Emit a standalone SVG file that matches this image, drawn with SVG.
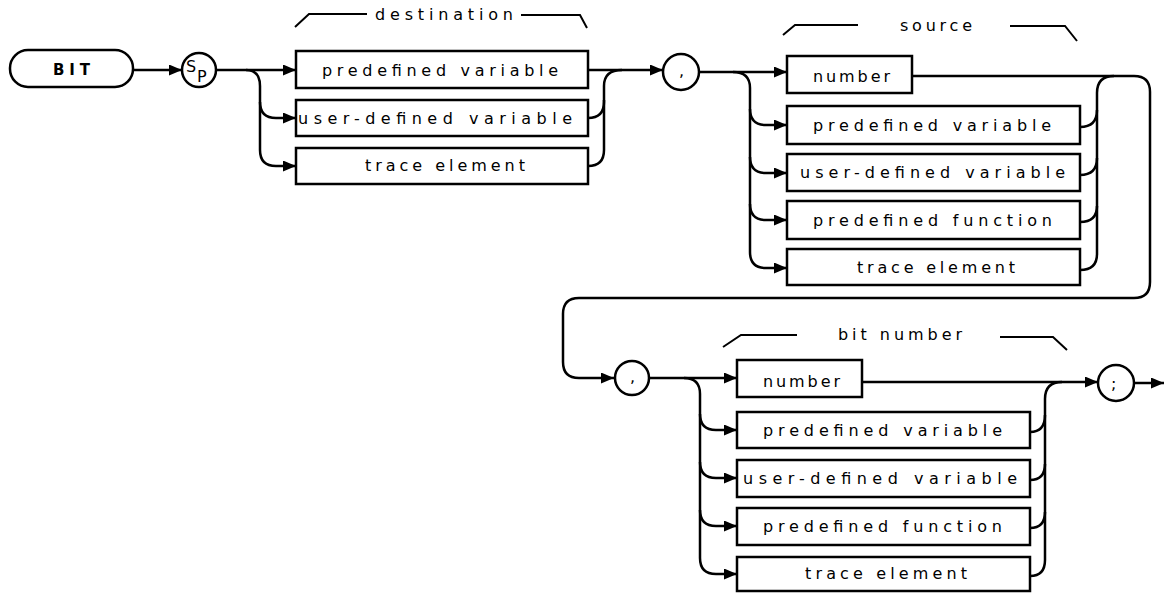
<svg xmlns="http://www.w3.org/2000/svg" width="1166" height="593" viewBox="0 0 1166 593">
<defs>
<marker id="arr" markerUnits="userSpaceOnUse" markerWidth="13" markerHeight="11" refX="13" refY="5.5" orient="auto">
<path d="M0,0 L13,5.5 L0,11 z" fill="#000"/>
</marker>
<style>
.box{fill:#fff;stroke:#000;stroke-width:2.5}
.c{fill:none;stroke:#000;stroke-width:2.5}
.a{fill:none;stroke:#000;stroke-width:2.5;marker-end:url(#arr)}
.br{fill:none;stroke:#000;stroke-width:2}
.t{font-family:"DejaVu Sans",sans-serif;font-size:16px;fill:#000}
.b{font-family:"DejaVu Sans",sans-serif;font-size:15px;font-weight:bold;fill:#000}
</style>
</defs>
<rect width="1166" height="593" fill="#fff"/>

<g id="connectors">
<path class="a" d="M133,70 H182"/>
<path class="a" d="M217,70 H296"/>
<path class="a" d="M246,70 Q260,70 260,86 V150 Q260,166 276,166 H296"/>
<path class="a" d="M260,102 Q260,118 276,118 H296"/>
<path class="a" d="M588,70 H663"/>
<path class="c" d="M588,118 Q604,118 604,102 V86 Q604,70 622,70"/>
<path class="c" d="M588,166 Q604,166 604,150 V100"/>

<path class="a" d="M700,72 H787"/>
<path class="a" d="M733,72 Q750,72 750,88 V252 Q750,268 766,268 H787"/>
<path class="a" d="M750,109 Q750,125 766,125 H787"/>
<path class="a" d="M750,157 Q750,173 766,173 H787"/>
<path class="a" d="M750,204 Q750,220 766,220 H787"/>

<path class="c" d="M912,76 H1134 Q1150,76 1150,92 V282 Q1150,298 1134,298 H579 Q563,298 563,314 V362 Q563,378 579,378 H614" marker-end="url(#arr)"/>
<path class="c" d="M1080,127 Q1097,127 1097,110 V93 Q1097,76 1114,76"/>
<path class="c" d="M1080,270 Q1097,270 1097,254 V110"/>
<path class="c" d="M1080,175 Q1097,175 1097,158"/>
<path class="c" d="M1080,222 Q1097,222 1097,206"/>

<path class="a" d="M649,378 H737"/>
<path class="a" d="M684,378 Q700,378 700,394 V558 Q700,574 716,574 H737"/>
<path class="a" d="M700,414 Q700,430 716,430 H737"/>
<path class="a" d="M700,462 Q700,478 716,478 H737"/>
<path class="a" d="M700,510 Q700,526 716,526 H737"/>

<path class="a" d="M862,382 H1098"/>
<path class="c" d="M1030,432 Q1045,432 1045,415 V399 Q1045,382 1062,382"/>
<path class="c" d="M1030,576 Q1045,576 1045,560 V415"/>
<path class="c" d="M1030,480 Q1045,480 1045,464"/>
<path class="c" d="M1030,528 Q1045,528 1045,512"/>
<path class="a" d="M1134,383 H1164"/>
</g>

<g id="bit">
<rect class="box" x="10" y="50" width="123" height="37" rx="18"/>
<text class="b" x="53" y="75" textLength="37" lengthAdjust="spacing">BIT</text>
</g>
<g id="sp">
<circle class="box" cx="199" cy="70" r="17"/>
<text class="t" x="186" y="72" font-size="16">S</text>
<text class="t" x="197" y="82" font-size="16">P</text>
</g>

<g id="destination-label">
<path class="br" d="M295,27 L309,14 H367"/>
<text class="t" x="375" y="20" textLength="138" lengthAdjust="spacing">destination</text>
<path class="br" d="M521,15 H580 L587,28"/>
</g>
<g id="dest-predefined-variable">
<rect class="box" x="296" y="51" width="292" height="37"/>
<text class="t" x="322" y="76" textLength="236" lengthAdjust="spacing">predefined variable</text>
</g>
<g id="dest-user-defined-variable">
<rect class="box" x="296" y="100" width="292" height="36"/>
<text class="t" x="298" y="124" textLength="274" lengthAdjust="spacing">user-defined variable</text>
</g>
<g id="dest-trace-element">
<rect class="box" x="296" y="148" width="292" height="36"/>
<text class="t" x="365" y="171" textLength="160" lengthAdjust="spacing">trace element</text>
</g>

<g id="comma1">
<circle class="box" cx="681" cy="72" r="18"/>
<text class="t" x="679" y="76">,</text>
</g>

<g id="source-label">
<path class="br" d="M783,35 L795,25 H858"/>
<text class="t" x="900" y="31" textLength="72" lengthAdjust="spacing">source</text>
<path class="br" d="M1010,26 H1065 L1077,41"/>
</g>
<g id="src-number">
<rect class="box" x="787" y="56" width="125" height="37"/>
<text class="t" x="813" y="82" textLength="77" lengthAdjust="spacing">number</text>
</g>
<g id="src-predefined-variable">
<rect class="box" x="787" y="106" width="293" height="38"/>
<text class="t" x="813" y="131" textLength="238" lengthAdjust="spacing">predefined variable</text>
</g>
<g id="src-user-defined-variable">
<rect class="box" x="787" y="154" width="293" height="37"/>
<text class="t" x="800" y="178" textLength="265" lengthAdjust="spacing">user-defined variable</text>
</g>
<g id="src-predefined-function">
<rect class="box" x="787" y="201" width="293" height="38"/>
<text class="t" x="813" y="226" textLength="239" lengthAdjust="spacing">predefined function</text>
</g>
<g id="src-trace-element">
<rect class="box" x="787" y="249" width="293" height="36"/>
<text class="t" x="857" y="273" textLength="158" lengthAdjust="spacing">trace element</text>
</g>

<g id="comma2">
<circle class="box" cx="632" cy="378" r="17"/>
<text class="t" x="630" y="382">,</text>
</g>

<g id="bit-number-label">
<path class="br" d="M723,347 L741,335 H797"/>
<text class="t" x="838" y="340" textLength="124" lengthAdjust="spacing">bit number</text>
<path class="br" d="M1000,337 H1053 L1067,350"/>
</g>
<g id="bit-number">
<rect class="box" x="737" y="360" width="125" height="37"/>
<text class="t" x="763" y="387" textLength="77" lengthAdjust="spacing">number</text>
</g>
<g id="bit-predefined-variable">
<rect class="box" x="737" y="412" width="293" height="36"/>
<text class="t" x="763" y="436" textLength="239" lengthAdjust="spacing">predefined variable</text>
</g>
<g id="bit-user-defined-variable">
<rect class="box" x="737" y="460" width="293" height="37"/>
<text class="t" x="743" y="484" textLength="274" lengthAdjust="spacing">user-defined variable</text>
</g>
<g id="bit-predefined-function">
<rect class="box" x="737" y="508" width="293" height="37"/>
<text class="t" x="763" y="532" textLength="239" lengthAdjust="spacing">predefined function</text>
</g>
<g id="bit-trace-element">
<rect class="box" x="737" y="557" width="293" height="34"/>
<text class="t" x="805" y="579" textLength="162" lengthAdjust="spacing">trace element</text>
</g>

<g id="semicolon">
<circle class="box" cx="1116" cy="383" r="18"/>
<text class="t" x="1111" y="389" font-size="18">;</text>
</g>
</svg>
